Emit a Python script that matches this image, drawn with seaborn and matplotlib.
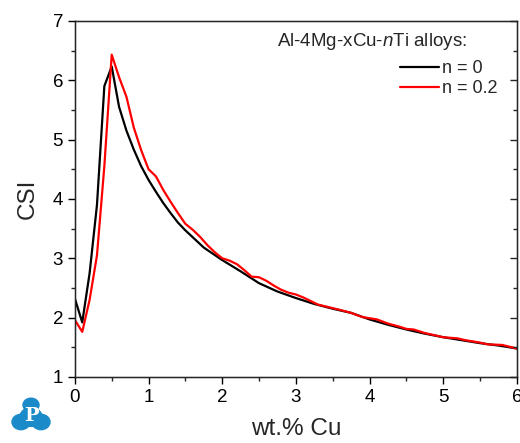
import numpy as np
import pandas as pd
import matplotlib
matplotlib.use("Agg")
import matplotlib.pyplot as plt
from matplotlib.patches import Circle
from matplotlib.lines import Line2D
from matplotlib.ticker import MultipleLocator
import seaborn as sns

# ---- data ----
x_n0 = [0.0, 0.1, 0.2, 0.3, 0.4, 0.5, 0.6, 0.7, 0.8, 0.9, 1.0, 1.1, 1.2, 1.3, 1.4, 1.5,
        1.75, 2.0, 2.25, 2.5, 2.75, 3.0, 3.25, 3.5, 3.75, 4.0, 4.25, 4.5, 4.75, 5.0,
        5.25, 5.5, 5.75, 6.0]
csi_n0 = [2.32, 1.92, 2.75, 3.90, 5.90, 6.23, 5.55, 5.15, 4.83, 4.55, 4.32, 4.12, 3.93, 3.76, 3.60, 3.47,
          3.18, 2.97, 2.78, 2.58, 2.44, 2.33, 2.23, 2.15, 2.08, 1.97, 1.88, 1.80, 1.73, 1.67,
          1.62, 1.57, 1.53, 1.48]

x_n02 = [0.0, 0.1, 0.2, 0.3, 0.4, 0.5, 0.6, 0.7, 0.8, 0.9, 1.0, 1.1, 1.2, 1.3, 1.4, 1.5,
         1.6, 1.7, 1.8, 1.9, 2.0, 2.1, 2.2, 2.3, 2.4, 2.5, 2.6, 2.7, 2.8, 2.9, 3.0,
         3.1, 3.2, 3.3, 3.4, 3.5, 3.6, 3.75, 3.9, 4.0, 4.1, 4.25, 4.4, 4.5, 4.6, 4.75,
         4.9, 5.0, 5.2, 5.3, 5.5, 5.6, 5.8, 6.0]
csi_n02 = [1.96, 1.76, 2.30, 3.05, 4.55, 6.43, 6.05, 5.72, 5.20, 4.82, 4.50, 4.38, 4.15, 3.95, 3.76, 3.58,
           3.48, 3.36, 3.22, 3.10, 3.00, 2.96, 2.90, 2.80, 2.69, 2.68, 2.62, 2.54, 2.47, 2.42, 2.39,
           2.34, 2.28, 2.22, 2.19, 2.16, 2.13, 2.08, 2.01, 1.99, 1.97, 1.90, 1.85, 1.81, 1.80, 1.74,
           1.70, 1.67, 1.65, 1.62, 1.58, 1.55, 1.54, 1.48]

series_labels = ["n = 0", "n = 0.2"]
legend_title = "Al-4Mg-xCu-$n$Ti alloys:"
x_label = "wt.% Cu"
y_label = "CSI"

df = pd.concat([
    pd.DataFrame({"x": x_n0, "y": csi_n0, "series": series_labels[0]}),
    pd.DataFrame({"x": x_n02, "y": csi_n02, "series": series_labels[1]}),
], ignore_index=True)

sns.set_style("ticks")
plt.rcParams["font.family"] = ["Liberation Sans", "DejaVu Sans"]
plt.rcParams["mathtext.fontset"] = "custom"
plt.rcParams["mathtext.it"] = "Liberation Sans:italic"
plt.rcParams["mathtext.rm"] = "Liberation Sans"

fig = plt.figure(figsize=(5.2, 4.43), dpi=100)
ax = fig.add_axes([0.144, 0.149, 0.850, 0.804])

sns.lineplot(data=df, x="x", y="y", hue="series", palette=["black", "red"],
             linewidth=1.6, ax=ax, legend=False, sort=False, estimator=None)

ax.set_xlim(0, 6)
ax.set_ylim(1, 7)
ax.xaxis.set_major_locator(MultipleLocator(1))
ax.xaxis.set_minor_locator(MultipleLocator(0.5))
ax.yaxis.set_major_locator(MultipleLocator(1))
ax.yaxis.set_minor_locator(MultipleLocator(0.5))
ax.tick_params(axis="both", which="major", direction="out", length=5, width=1,
               labelsize=13.5, pad=3.5, colors="black")
ax.tick_params(axis="both", which="minor", direction="out", length=3, width=1)
for s in ax.spines.values():
    s.set_linewidth(1.0)
    s.set_color("black")

# right-side inward ticks
ax2 = ax.twinx()
ax2.set_ylim(1, 7)
ax2.yaxis.set_major_locator(MultipleLocator(1))
ax2.yaxis.set_minor_locator(MultipleLocator(0.5))
ax2.tick_params(axis="y", which="major", direction="in", length=5, width=1, labelright=False)
ax2.tick_params(axis="y", which="minor", direction="in", length=3, width=1)

ax.set_xlabel(x_label, fontsize=17.5, labelpad=9)
ax.set_ylabel(y_label, fontsize=17.5, labelpad=10)

# legend
handles = [Line2D([], [], color="black", lw=1.6), Line2D([], [], color="red", lw=1.6)]
ax.text(0.458, 0.972, legend_title, transform=ax.transAxes, fontsize=13.5,
        ha="left", va="top")
ax.legend(handles, series_labels, loc="upper right", bbox_to_anchor=(0.985, 0.925),
          frameon=False, fontsize=13, handlelength=2.2, handletextpad=0.15,
          labelspacing=0.15, borderpad=0.2)

# logo approximation
logo_color = "#1a8ac8"
for cx, cy, r in [(31, 405, 8), (21, 422, 9), (41, 422, 9), (31, 417, 11)]:
    fig.patches.append(Circle((cx / 520, 1 - cy / 443), r / 520, transform=fig.transFigure,
                              color=logo_color, zorder=5))
fig.text(31 / 520, 1 - 416 / 443, "P", color="white", fontsize=14, fontweight="bold",
         family="DejaVu Serif", ha="center", va="center", zorder=6)

fig.savefig("out.png", dpi=100)
